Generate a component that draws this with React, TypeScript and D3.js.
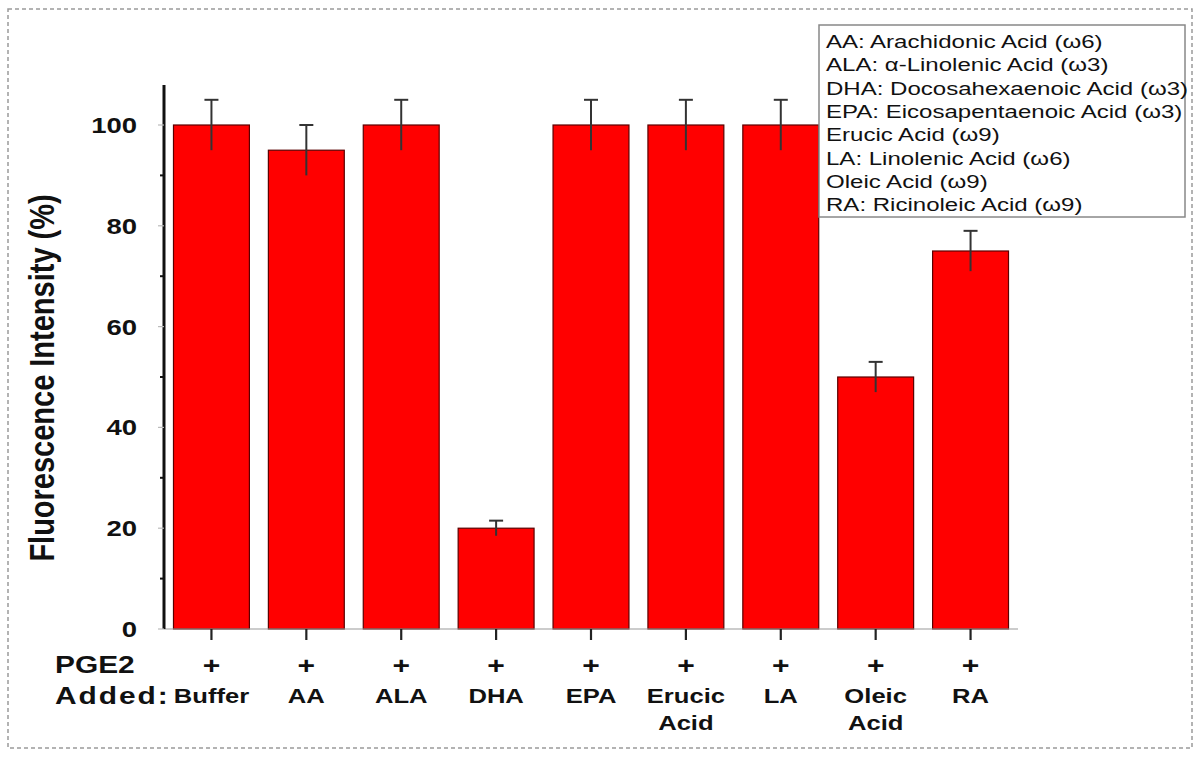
import React from "react";
import * as d3 from "d3";

const categories = ["Buffer", "AA", "ALA", "DHA", "EPA", "Erucic Acid", "LA", "Oleic Acid", "RA"];
const values = [100, 95, 100, 20, 100, 100, 100, 50, 75];
const errors = [5, 5, 5, 1.5, 5, 5, 5, 3, 4];
const yTicks = [0, 20, 40, 60, 80, 100];
const yMinorTicks = [10, 30, 50, 70, 90];
const legendLines = [
  "AA: Arachidonic Acid (ω6)",
  "ALA: α-Linolenic Acid (ω3)",
  "DHA: Docosahexaenoic Acid (ω3)",
  "EPA: Eicosapentaenoic Acid (ω3)",
  "Erucic Acid (ω9)",
  "LA: Linolenic Acid (ω6)",
  "Oleic Acid (ω9)",
  "RA: Ricinoleic Acid (ω9)",
];

const FONT = "'Liberation Sans', Arial, Helvetica, sans-serif";

function T({ x, y, anchor = "start", size, weight = "normal", sx = 1.25, ls = 0, children }: any) {
  return (
    <text
      transform={`translate(${x},${y}) scale(${sx},1)`}
      textAnchor={anchor}
      fontFamily={FONT}
      fontSize={size}
      fontWeight={weight}
      letterSpacing={ls}
      fill="#111"
    >
      {children}
    </text>
  );
}

export default function App() {
  const W = 1200;
  const H = 758;
  const left = 164;
  const right = 1018;
  const y0 = 629;
  const yTop = 85;

  const x = d3
    .scaleBand<string>()
    .domain(categories)
    .range([left, right])
    .paddingInner(0.2)
    .paddingOuter(0.1);
  const y = d3.scaleLinear().domain([0, 100]).range([y0, 125]);

  return (
    <svg
      width={W}
      height={H}
      style={{ position: "absolute", left: 0, top: 0, background: "#fff" }}
    >
      {/* outer dotted frame */}
      <rect x={8} y={9} width={1184} height={739} fill="none" stroke="#9a9a9a" strokeWidth={1.5} strokeDasharray="4,3" />

      {/* bars */}
      {categories.map((c, i) => (
        <rect
          key={c}
          x={x(c)}
          y={y(values[i])}
          width={x.bandwidth()}
          height={y0 - y(values[i])}
          fill="#ff0000"
          stroke="#5a0000"
          strokeWidth={1.2}
        />
      ))}

      {/* error bars */}
      {categories.map((c, i) => {
        const cx = (x(c) as number) + x.bandwidth() / 2;
        const top = y(values[i] + errors[i]);
        const bot = y(values[i] - errors[i]);
        return (
          <g key={c + "e"} stroke="#333" strokeWidth={2}>
            <line x1={cx} x2={cx} y1={top} y2={bot} />
            <line x1={cx - 7} x2={cx + 7} y1={top} y2={top} />
          </g>
        );
      })}

      {/* x axis */}
      <line x1={left} x2={right} y1={y0} y2={y0} stroke="#999" strokeWidth={1.2} />
      {categories.map((c) => {
        const cx = (x(c) as number) + x.bandwidth() / 2;
        return <line key={c + "t"} x1={cx} x2={cx} y1={y0} y2={y0 + 11} stroke="#222" strokeWidth={2.2} />;
      })}

      {/* y axis */}
      <line x1={left} x2={left} y1={yTop} y2={y0} stroke="#111" strokeWidth={3} />
      {yTicks.map((t) => (
        <line key={"yt" + t} x1={left - 6} x2={left} y1={y(t)} y2={y(t)} stroke="#bbb" strokeWidth={1.2} />
      ))}
      {yMinorTicks.map((t) => (
        <line key={"ym" + t} x1={left - 4} x2={left} y1={y(t)} y2={y(t)} stroke="#111" strokeWidth={2} />
      ))}
      {yTicks.map((t) => (
        <T key={"yl" + t} x={137} y={y(t) + 8} anchor="end" size={22} weight="bold">
          {t}
        </T>
      ))}

      {/* y label */}
      <text
        transform={`translate(54,378) rotate(-90) scale(1,1.2)`}
        textAnchor="middle"
        fontFamily={FONT}
        fontSize={29}
        fontWeight="bold"
        fill="#111"
      >
        Fluorescence Intensity (%)
      </text>

      {/* row labels */}
      <T x={55} y={673} size={23} weight="bold" sx={1.3}>PGE2</T>
      <T x={55} y={704} size={23} weight="bold" sx={1.3} ls={1.5}>Added:</T>

      {categories.map((c) => {
        const cx = (x(c) as number) + x.bandwidth() / 2;
        const parts = c.split(" ");
        return (
          <g key={c + "l"}>
            <T x={cx} y={674} anchor="middle" size={24} weight="bold">+</T>
            {parts.map((p, j) => (
              <T key={p} x={cx} y={703 + j * 27} anchor="middle" size={20} weight="bold" sx={1.28}>
                {p}
              </T>
            ))}
          </g>
        );
      })}

      {/* legend */}
      <rect x={819} y={25} width={366} height={192} fill="#fff" stroke="#888" strokeWidth={1.5} />
      {legendLines.map((l, i) => (
        <T key={l} x={826} y={48 + i * 23.3} size={18.5} sx={1.3}>
          {l}
        </T>
      ))}
    </svg>
  );
}
